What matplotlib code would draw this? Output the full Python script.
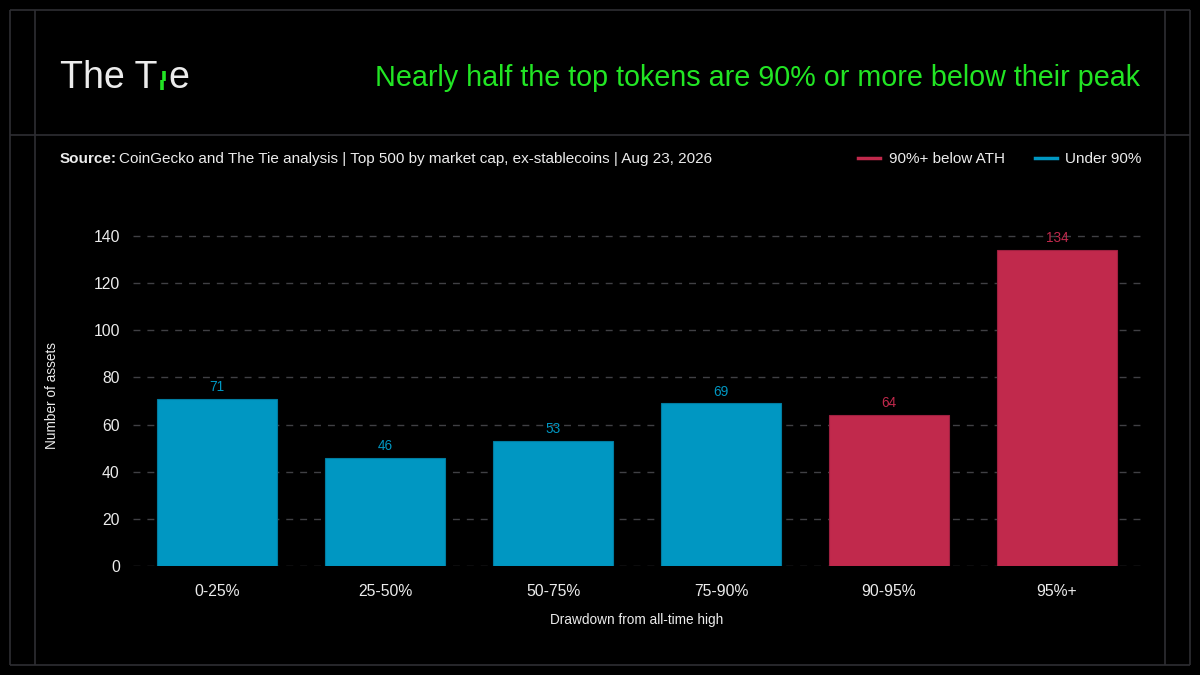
import matplotlib
matplotlib.use("Agg")
import matplotlib.pyplot as plt

# data
categories = ["0-25%", "25-50%", "50-75%", "75-90%", "90-95%", "95%+"]
counts = [71, 46, 53, 69, 64, 134]
deep = [False, False, False, False, True, True]   # 90%+ below ATH

BG = "#000000"
BLUE = "#0097c2"
RED = "#c1294c"
GREEN = "#22e524"
FRAME = "#2e2e33"
GRID = "#404044"
TXT = "#ececec"

plt.rcParams["font.family"] = ["Liberation Sans", "DejaVu Sans"]

fig = plt.figure(figsize=(12, 6.75), dpi=100, facecolor=BG)

# overlay in pixel coords for the frame and header
ov = fig.add_axes([0, 0, 1, 1])
ov.set_xlim(0, 1200)
ov.set_ylim(675, 0)
ov.axis("off")
ov.set_zorder(0)

for x in (10, 35, 1165, 1190):
    ov.plot([x, x], [10, 665], color=FRAME, lw=1.2, solid_capstyle="butt")
for y in (10, 135, 665):
    ov.plot([10, 1190], [y, y], color=FRAME, lw=1.2, solid_capstyle="butt")

# logo
ov.text(60, 88, "The T", color=TXT, fontsize=27, va="baseline", ha="left")
ov.plot([161.5, 161.5], [80, 90], color=GREEN, lw=2.6, solid_capstyle="butt")
ov.plot([163.5, 163.5], [71, 81], color=GREEN, lw=2.6, solid_capstyle="butt")
ov.text(168, 88, "e", color=TXT, fontsize=27, va="baseline", ha="left")

ov.text(1140, 86, "Nearly half the top tokens are 90% or more below their peak",
        color=GREEN, fontsize=20.7, ha="right", va="baseline")

# source line
ov.text(60, 163, "Source:", color=TXT, fontsize=11, fontweight="bold", va="baseline")
ov.text(119, 163, "CoinGecko and The Tie analysis | Top 500 by market cap, ex-stablecoins | Aug 23, 2026",
        color=TXT, fontsize=11, va="baseline")

# legend
ov.plot([858, 880], [158, 158], color=RED, lw=2.5)
ov.text(889, 163, "90%+ below ATH", color=TXT, fontsize=11, va="baseline")
ov.plot([1035, 1057], [158, 158], color=BLUE, lw=2.5)
ov.text(1065, 163, "Under 90%", color=TXT, fontsize=11, va="baseline")

# main chart
ax = fig.add_axes([133 / 1200, 109 / 675, 1008 / 1200, 341.8 / 675])
ax.set_facecolor("none")
ax.set_zorder(1)

colors = [RED if d else BLUE for d in deep]
edges = ["#9e2040" if d else "#007ca0" for d in deep]
xs = range(len(categories))
ax.bar(xs, counts, width=0.71, color=colors, edgecolor=edges, linewidth=0.8, zorder=2)

for x, v, c in zip(xs, counts, colors):
    ax.text(x, v + 2.0, str(v), color=c, fontsize=9.8, ha="center", va="bottom")

ax.set_xlim(-0.5, 5.5)
ax.set_ylim(0, 145)
ax.set_yticks(range(0, 141, 20))
ax.set_xticks(list(xs))
ax.set_xticklabels(categories)
ax.grid(axis="y", color=GRID, linestyle=(0, (5, 5)), linewidth=1, zorder=0)
ax.set_axisbelow(True)
for s in ax.spines.values():
    s.set_visible(False)
ax.tick_params(axis="both", length=0, colors=TXT, labelsize=11.3)
ax.tick_params(axis="y", pad=9.5)
ax.tick_params(axis="x", pad=13)
ax.set_xlabel("Drawdown from all-time high", color=TXT, fontsize=9.8, labelpad=10)
ax.set_ylabel("Number of assets", color=TXT, fontsize=9.8, labelpad=25)

fig.savefig("out.png", dpi=100, facecolor=BG)
